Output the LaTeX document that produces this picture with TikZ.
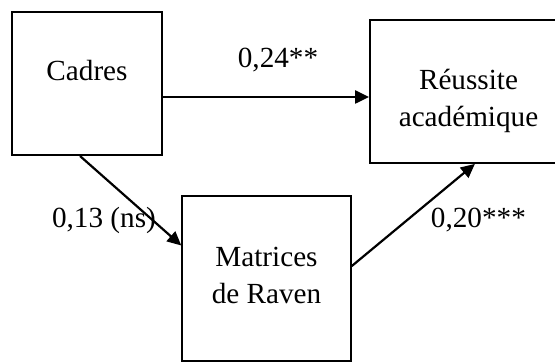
\documentclass[tikz,border=0pt]{standalone}
\usepackage{fontspec}
\setmainfont{Liberation Serif}
\usetikzlibrary{arrows.meta}

\newcommand\cadresw{74.9pt}
\newcommand\cadresh{71.7pt}
\newcommand\reussitew{98.5pt}
\newcommand\reussiteh{71.5pt}
\newcommand\ravenw{84.3pt}
\newcommand\ravenh{82.5pt}

\tikzset{
  varbox/.style={draw,rectangle,line width=0.9pt,inner sep=0pt},
  vartext/.style={inner sep=0pt,anchor=base,align=center,font=\fontsize{14.6pt}{18.5pt}\selectfont},
  path arrow/.style={line width=1.1pt,-{Triangle[length=7pt,width=6.5pt]}}
}

\begin{document}
\begin{tikzpicture}[x=0.5pt,y=-0.5pt]
    \useasboundingbox (0,0) rectangle (555,362);

    \node[varbox,minimum width=\cadresw,minimum height=\cadresh] (cadres) at (87.2,83.4) {};
    \node[varbox,minimum width=\reussitew,minimum height=\reussiteh] (reussite) at (468.5,91.5) {};
    \node[varbox,minimum width=\ravenw,minimum height=\ravenh] (raven) at (266.5,278.5) {};

    \node[vartext] (cadrestext) at (87,81) {Cadres};
    \node[vartext] (reussitetext) at (468.5,127) {Réussite\\ académique};
    \node[vartext] (raventext) at (266.5,304) {Matrices\\ de Raven};

    \draw[path arrow] ([yshift=-6.8pt]cadres.east) -- ([yshift=-6.8pt]cadres.east -| reussite.west);
    \draw[path arrow] ([xshift=-3.6pt]cadres.south) -- ([yshift=16.5pt]raven.west);
    \draw[path arrow] ([yshift=6.2pt]raven.east) -- ([xshift=3.2pt]reussite.south);

    \node[vartext] (coefa) at (278,68) {0,24**};
    \node[vartext] (coefb) at (104,228) {0,13 (ns)};
    \node[vartext] (coefc) at (478.4,228) {0,20***};
  \end{tikzpicture}
\end{document}
